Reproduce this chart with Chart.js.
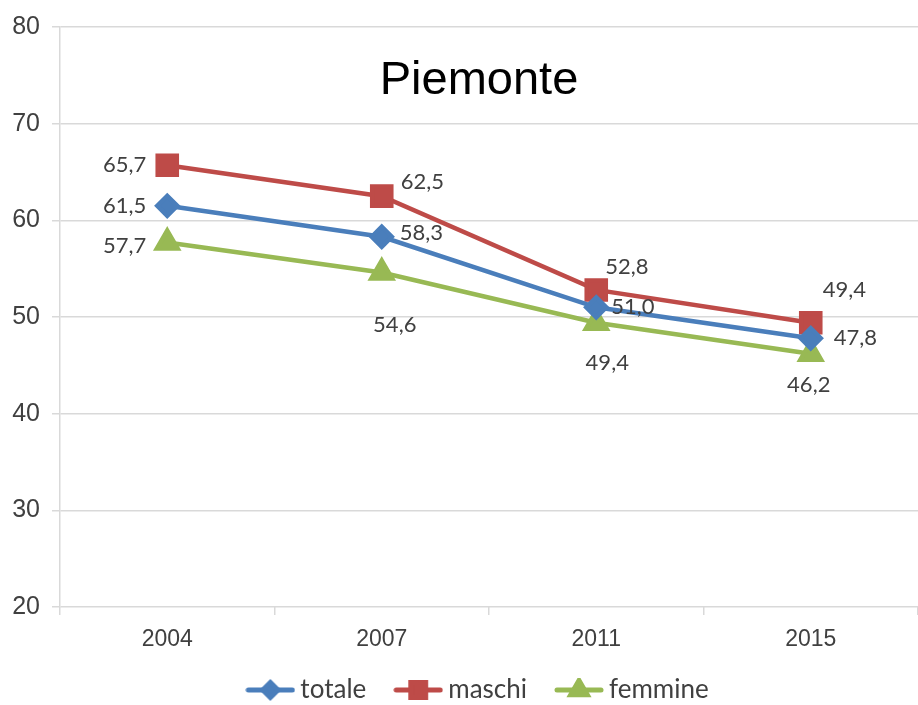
<!DOCTYPE html>
<html>
<head>
<meta charset="utf-8">
<script src="https://cdn.jsdelivr.net/npm/chart.js@4/dist/chart.umd.min.js"></script>
<style>
  html, body { margin: 0; padding: 0; background: #fff; }
  #wrap { width: 918px; height: 705px; }
</style>
</head>
<body>
<div id="wrap"><canvas id="piemonteChart" width="918" height="705"></canvas></div>
<script>
// Values
const years = ['2004', '2007', '2011', '2015'];
const totale = [61.5, 58.3, 51.0, 47.8];
const maschi = [65.7, 62.5, 52.8, 49.4];
const femmine = [57.7, 54.6, 49.4, 46.2];
const yTicks = [20, 30, 40, 50, 60, 70, 80];

// Where each value label sits relative to its point: [dx, dy, align]
const placeTotale = [[-21, 0, 'right'], [18, -4, 'left'], [15, 0, 'left'], [23, 0, 'left']];
const placeMaschi = [[-21, 0, 'right'], [19, -14, 'left'], [9, -23, 'left'], [12, -33, 'left']];
const placeFemmine = [[-21, 3, 'right'], [13, 52, 'center'], [11, 40, 'center'], [-2, 31, 'center']];

const LABEL_FONT = "Lato, 'Open Sans', sans-serif";
const AXIS_FONT = "'Liberation Sans', Arial, sans-serif";
const TEXT = '#404040';
const GRID = '#d9d9d9';

const colors = { totale: '#4a7ebb', maschi: '#be4b48', femmine: '#98b954' };

// small legend icon: line with a marker on it
function legendIcon(color, style, radius) {
    const c = document.createElement('canvas');
    c.width = 50;
    c.height = 24;
    const g = c.getContext('2d');
    g.strokeStyle = color;
    g.lineWidth = 5;
    g.lineCap = 'round';
    g.beginPath();
    g.moveTo(3, 12);
    g.lineTo(47, 12);
    g.stroke();
    g.fillStyle = color;
    g.strokeStyle = color;
    Chart.helpers.drawPoint(g, { pointStyle: style, radius: radius, rotation: 0, borderWidth: 1 }, 25, 12);
    return c;
}

const valueLabels = {
    id: 'valueLabels',
    afterDatasetsDraw(chart) {
        const ctx = chart.ctx;
        ctx.save();
        ctx.font = '22px ' + LABEL_FONT;
        ctx.fillStyle = TEXT;
        ctx.textBaseline = 'middle';
        chart.data.datasets.forEach((ds, di) => {
            const meta = chart.getDatasetMeta(di);
            meta.data.forEach((pt, i) => {
                const [dx, dy, align] = ds.placement[i];
                ctx.textAlign = align;
                ctx.fillText(ds.data[i].toFixed(1).replace('.', ','), pt.x + dx, pt.y + dy);
            });
        });
        ctx.restore();
    }
};

// title inside the plot and the legend row at the bottom
const extras = {
    id: 'extras',
    afterDraw(chart) {
        const ctx = chart.ctx;
        ctx.save();
        ctx.font = '47px ' + AXIS_FONT;
        ctx.fillStyle = '#000';
        ctx.textAlign = 'center';
        ctx.textBaseline = 'middle';
        ctx.fillText('Piemonte', 479, 81);

        ctx.font = '26px ' + LABEL_FONT;
        ctx.textAlign = 'left';
        ctx.fillStyle = TEXT;
        const items = chart.data.datasets.map(ds => ({ icon: ds.legendIcon, text: ds.label, w: ctx.measureText(ds.label).width }));
        const gapIcon = 5, gapItem = 27;
        let total = 0;
        items.forEach((it, i) => { total += it.icon.width + gapIcon + it.w + (i ? gapItem : 0); });
        let x = 477 - total / 2;
        const y = 690;
        items.forEach(it => {
            ctx.drawImage(it.icon, x, y - it.icon.height / 2);
            x += it.icon.width + gapIcon;
            ctx.fillText(it.text, x, y);
            x += it.w + gapItem;
        });
        ctx.restore();
    }
};

function makeChart() {
    const ctx = document.getElementById('piemonteChart');

    new Chart(ctx, {
        type: 'line',
        data: {
            labels: years,
            datasets: [
                {
                    label: 'totale',
                    data: totale,
                    placement: placeTotale,
                    borderColor: colors.totale,
                    backgroundColor: colors.totale,
                    borderWidth: 4.5,
                    pointStyle: 'rectRot',
                    pointRadius: 10,
                    legendIcon: legendIcon(colors.totale, 'rectRot', 7.5)
                },
                {
                    label: 'maschi',
                    data: maschi,
                    placement: placeMaschi,
                    borderColor: colors.maschi,
                    backgroundColor: colors.maschi,
                    borderWidth: 4.5,
                    pointStyle: 'rect',
                    pointRadius: 13.5,
                    legendIcon: legendIcon(colors.maschi, 'rect', 10.5)
                },
                {
                    label: 'femmine',
                    data: femmine,
                    placement: placeFemmine,
                    borderColor: colors.femmine,
                    backgroundColor: colors.femmine,
                    borderWidth: 4.5,
                    pointStyle: 'triangle',
                    pointRadius: 12,
                    legendIcon: legendIcon(colors.femmine, 'triangle', 9.5)
                }
            ]
        },
        options: {
            responsive: false,
            animation: false,
            layout: { autoPadding: false, padding: { top: 25, right: 0, left: 0, bottom: 48 } },
            elements: {
                line: { tension: 0 },
                point: { borderWidth: 1, hoverRadius: 12 }
            },
            plugins: {
                title: { display: false },
                tooltip: { enabled: false },
                legend: { display: false }
            },
            scales: {
                x: {
                    offset: true,
                    grid: {
                        offset: true,
                        drawOnChartArea: false,
                        color: GRID,
                        lineWidth: 1.5,
                        tickLength: 8
                    },
                    border: { display: false },
                    ticks: {
                        color: TEXT,
                        padding: 11,
                        font: { family: AXIS_FONT, size: 23 }
                    },
                    afterFit(scale) { scale.height = 50; }
                },
                y: {
                    min: 20,
                    max: 80,
                    afterBuildTicks(scale) { scale.ticks = yTicks.map(v => ({ value: v })); },
                    grid: {
                        color: GRID,
                        lineWidth: 1.5,
                        tickLength: 8
                    },
                    border: { display: true, color: GRID, width: 1.5 },
                    ticks: {
                        color: TEXT,
                        padding: 12,
                        font: { family: AXIS_FONT, size: 25 }
                    },
                    afterFit(scale) { scale.width = 60; }
                }
            }
        },
        plugins: [valueLabels, extras]
    });
}

document.addEventListener('DOMContentLoaded', makeChart);
</script>
</body>
</html>
